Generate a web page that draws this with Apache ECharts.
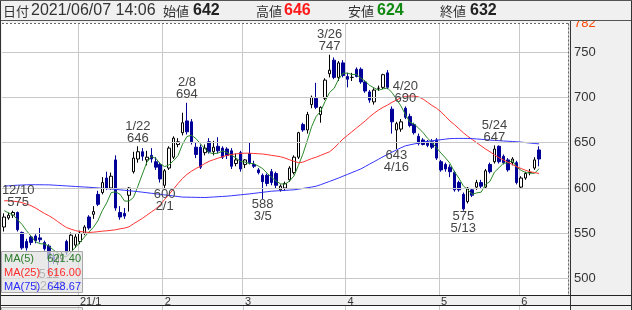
<!DOCTYPE html>
<html><head><meta charset="utf-8">
<script src="https://cdn.jsdelivr.net/npm/echarts@6/dist/echarts.min.js"></script>
<style>html,body{margin:0;padding:0;background:#fff}#c{width:632px;height:310px}</style>
</head><body><div id="c"></div>
<script>
const dates = ['12/8','12/9','12/10','12/11','12/14','12/15','12/16','12/17','12/18','12/21','12/22','12/23','12/24','12/25','12/28','12/29','12/30',
'1/4','1/5','1/6','1/7','1/8','1/12','1/13','1/14','1/15','1/18','1/19','1/20','1/21','1/22','1/25','1/26','1/27','1/28','1/29',
'2/1','2/2','2/3','2/4','2/5','2/8','2/9','2/10','2/12','2/15','2/16','2/17','2/18','2/19','2/22','2/24','2/25','2/26',
'3/1','3/2','3/3','3/4','3/5','3/8','3/9','3/10','3/11','3/12','3/15','3/16','3/17','3/18','3/19','3/22','3/23','3/24','3/25','3/26','3/29','3/30','3/31',
'4/1','4/2','4/5','4/6','4/7','4/8','4/9','4/12','4/13','4/14','4/15','4/16','4/19','4/20','4/21','4/22','4/23','4/26','4/27','4/28','4/30',
'5/6','5/7','5/10','5/11','5/12','5/13','5/14','5/17','5/18','5/19','5/20','5/21','5/24','5/25','5/26','5/27','5/28','5/31',
'6/1','6/2','6/3','6/4','6/7'];
const opens = [557,567,570,573,551,541,546,547,545,540,536,524,518,522,541,530,537,
541,550,568,571,593,595,611,600,631,573,572,592,618,632,640,631,636,629,626,
603,622,634,648,661,674,673,645,645,639,651,640,646,644,643,641,627,639,
626,638,626,620,614,614,618,616,598,600,609,617,634,670,664,692,699,681,699,726,741,722,738,
723,722,731,731,717,706,695,710,711,727,687,664,665,688,679,670,657,653,651,651,653,
629,626,623,617,606,593,585,598,601,606,601,626,629,646,635,631,628,628,
601,611,617,622,642];
const highs = [572,573,575,574,552,544,548,549,556,542,538,528,527,530,543,551,549,
553,559,570,580,597,612,618,617,636,580,578,601,640,646,644,641,644,634,628,
621,646,657,655,683,694,676,650,648,648,655,652,656,646,645,644,638,641,
632,650,630,622,616,616,621,618,604,607,624,636,662,672,684,702,716,690,721,747,744,740,741,
727,727,733,733,719,708,710,713,726,730,690,673,676,690,682,672,660,655,653,654,655,
631,628,626,619,608,595,601,600,609,609,621,628,647,647,637,633,634,630,
613,618,621,634,646];
const lows = [552,565,567,552,532,531,537,539,540,531,511,516,515,519,526,528,534,
538,548,554,566,580,593,598,598,575,565,566,574,616,628,630,625,628,620,606,
600,620,632,645,658,659,648,633,621,636,638,636,638,632,632,621,624,618,
622,626,622,615,588,602,603,600,596,597,607,615,632,662,660,688,687,672,697,722,720,718,722,
711,718,722,715,705,694,692,707,709,709,660,643,662,676,667,659,647,647,645,643,631,
618,618,612,596,596,575,583,590,598,599,599,616,627,627,626,618,625,604,
599,609,614,620,624];
const closes = [568,570,573,554,534,534,540,542,543,533,522,519,524,527,529,548,546,
550,557,556,574,582,606,600,613,578,568,569,600,633,640,635,634,632,623,610,
619,644,655,651,672,662,651,637,623,644,640,645,641,634,636,624,631,621,
631,628,624,617,607,605,606,603,602,605,622,634,661,664,681,700,689,689,719,730,722,738,724,
720,722,723,717,707,697,708,710,725,711,673,671,673,678,669,661,649,648,647,645,633,
620,621,618,598,598,577,600,592,606,602,619,618,643,629,628,620,632,606,
611,616,617,631,632];
const ma5 = [575,572.5,570,565,559.8,553,547,540.8,538.6,538.4,
536,531.8,528.2,525,524.2,529.4,534.8,540,546,551.4,
556.6,563.8,575,583.6,595,595.8,593,585.6,585.6,589.6,
602,615.4,628.4,634.8,632.8,626.8,623.6,625.6,630.2,635.8,
648.2,656.8,658.2,654.6,649,643.4,639,637.8,638.6,640.8,
639.2,636,633.2,629.2,628.6,627,627,624.2,621.4,616.2,
611.8,607.6,604.6,604.2,607.6,613.2,624.8,637.2,652.4,668,
679,684.6,695.6,705.4,709.8,719.6,726.6,726.8,725.2,725.4,
721.2,717.8,713.2,710.4,707.8,709.4,710.2,705.4,698,690.6,
681.2,672.8,670.4,666,661,654.8,650,644.4,638.6,633.2,
627.4,618,611,602.4,598.2,593,594.6,595.4,603.8,607.4,
617.6,622.2,627.4,627.6,630.4,623,619.4,617,616.4,616.2,
621.4];
const ma25 = [586,585.8,585.4,585,583.8,582.3,580.6,578,575,572,
569.5,566.5,563,559.5,556.3,554.6,553,552,551.5,551,
551.3,551.8,552.4,552.8,553.3,554,555,555.8,557.2,560.5,
563.5,566.5,570,573.5,577,581.5,587.5,593,599,605,
610.5,615,618.5,621.5,624,627,629.5,631.3,633,634.5,
636,637,637.7,638.1,638.4,638.4,638.1,637.8,637.5,636.8,
636,635.3,634.5,633,631.2,629.5,628,628.5,630.5,632.5,
634,636,638,640,644,649,654,658,662,666,
670,674,678.5,682.5,686,689,691.5,694.5,697,699.5,
701,701.5,701.3,700.5,698,694.5,691,688,684,679,
674,670,665.5,661,657,653.5,650,646.5,643,640,
636.5,633.5,631,628.5,626,623.5,621.5,619.5,618,617,
616];
const ma75 = [602,602.4,602.8,603.1,603.3,603.5,603.6,603.6,603.6,603.5,
603.5,603.2,602.9,602.6,602.3,602,601.7,601.4,601.1,600.8,
600.5,600.1,599.7,599.3,598.9,598.5,598,597.5,597,596.5,
596,595.4,594.8,594.2,593.6,593,592.4,591.8,591.2,590.6,
590,589.9,589.8,589.7,589.6,589.5,589.8,590.1,590.4,590.7,
591,591.5,592,592.5,593,593.5,594.1,594.7,595.3,595.9,
596.5,596.8,597.1,597.4,597.7,598,598.7,599.5,600.3,601.1,
602,603.7,605.5,607.3,609.1,611,613,615,617,619,
621,623.7,626.4,629.1,631.8,634.5,637,639.5,642,644.3,
646.5,647.6,648.6,649.6,650.6,651.5,652.1,652.7,653.3,653.9,
654.5,654.6,654.7,654.7,654.6,654.5,654.1,653.7,653.3,652.9,
652.5,652.2,651.9,651.6,651.3,651,650.6,650.1,649.6,649.1,
648.67];
const yTicks = [500,550,600,650,700,750];
const yMin = 482, yMax = 782;
const monthStarts = ['1/4','2/1','3/1','4/1','5/6','6/1'];
const monthLabels = ['21/1','2','3','4','5','6'];
const annDates = ['12/10','12/22','1/22','2/1','2/8','3/5','3/26','4/16','4/20','5/13','5/24'];
const annValues = [575,511,646,600,694,588,747,643,690,575,647];
const annSides = ['high','low','high','low','high','low','high','low','high','low','high'];
const headerTime = '2021/06/07 14:06';
const padCount = 6;

const cats = dates.concat(Array.from({length: padCount}, (_, k) => '_' + k));
const candle = dates.map((d, i) => [opens[i], closes[i], lows[i], highs[i]]);
const last = dates.length - 1;
const NUM = 'Liberation Sans';
const CJK = '"Noto Sans CJK JP"';

const chart = echarts.init(document.getElementById('c'), null, {renderer: 'canvas'});

function markPts() {
  return annDates.map((d, i) => {
    const v = annValues[i], hi = annSides[i] === 'high';
    return {
      coord: [d, v],
      label: {
        position: hi ? 'top' : 'bottom',
        distance: hi ? 2 : 0,
        offset: i === 0 ? [5, 0] : [0, 0],
        formatter: hi ? (d + '\n' + v) : (v + '\n' + d)
      }
    };
  });
}

const option = {
  animation: false,
  backgroundColor: '#f0f0f0',
  grid: {left: 2, right: 64, top: 23, bottom: 15, show: true, backgroundColor: '#fff', borderWidth: 0, containLabel: false},
  xAxis: {
    type: 'category', data: cats, boundaryGap: true,
    axisLine: {show: false}, axisTick: {show: false},
    axisLabel: {
      interval: (i, v) => monthStarts.includes(v),
      formatter: v => { const k = monthStarts.indexOf(v); return k >= 0 ? monthLabels[k] : ''; },
      align: 'left', margin: 1, fontSize: 11, lineHeight: 11, color: '#333', fontFamily: NUM
    },
    splitLine: {show: true, interval: (i, v) => monthStarts.includes(v), lineStyle: {color: '#c8c8c8', width: 1}}
  },
  yAxis: {
    type: 'value', position: 'right', min: yMin, max: yMax, scale: true,
    splitLine: {show: false}, axisLine: {show: false}, axisTick: {show: false},
    axisLabel: {
      customValues: yTicks.concat([yMax]),
      margin: 6, fontSize: 13, fontFamily: NUM,
      color: v => (Number(v) === yMax ? '#ff4500' : '#333')
    }
  },
  series: [
    {
      type: 'line', data: [], z: 0, silent: true,
      markLine: {
        silent: true, symbol: 'none', animation: false,
        label: {show: false},
        lineStyle: {color: '#c8c8c8', type: 'solid', width: 1},
        emphasis: {disabled: true},
        data: yTicks.map(v => ({yAxis: v}))
      }
    },
    {
      type: 'candlestick', data: candle, barWidth: 3, z: 3, silent: true,
      itemStyle: {color: '#ffffff', color0: '#000099', borderColor: '#000000', borderColor0: '#000099', borderWidth: 1},
      markPoint: {
        symbol: 'circle', symbolSize: 0, silent: true, animation: false,
        itemStyle: {color: 'rgba(0,0,0,0)'},
        label: {show: true, color: '#444', fontSize: 13, lineHeight: 12, fontFamily: NUM},
        data: markPts()
      }
    },
    {type: 'line', data: ma5, showSymbol: false, symbol: 'none', z: 4, silent: true, lineStyle: {color: '#2a8a2a', width: 1}},
    {type: 'line', data: ma25, showSymbol: false, symbol: 'none', z: 4, silent: true, lineStyle: {color: '#ff3333', width: 1}},
    {type: 'line', data: ma75, showSymbol: false, symbol: 'none', z: 4, silent: true, lineStyle: {color: '#3333ff', width: 1}}
  ]
};
chart.setOption(option);

// decorations
const G = [];
const T = (x, y, text, font, color, align, weight) => ({
  type: 'text', z: 102, silent: true, x: x, y: y,
  style: {text: text, fontSize: font.size, fontFamily: font.family, fill: color, align: align || 'left', verticalAlign: 'middle', fontWeight: weight || 'normal'}
});
// header
G.push({type: 'rect', z: 100, silent: true, shape: {x: 0, y: 0, width: 632, height: 21}, style: {fill: '#f0f0f0'}});
G.push({type: 'line', z: 101, silent: true, shape: {x1: 0, y1: 20.5, x2: 632, y2: 20.5}, style: {stroke: '#555', lineWidth: 1}});
const jf = {size: 13, family: CJK}, nf = {size: 16, family: NUM};
G.push(T(3, 11, '日付', jf, '#333'));
G.push(T(31, 11, headerTime, nf, '#333'));
G.push(T(163, 11, '始値', jf, '#333'));
G.push(T(193, 11, String(opens[last]), nf, '#222', 'left', 'bold'));
G.push(T(256, 11, '高値', jf, '#333'));
G.push(T(284, 11, String(highs[last]), nf, '#ff1a1a', 'left', 'bold'));
G.push(T(348, 11, '安値', jf, '#333'));
G.push(T(377, 11, String(lows[last]), nf, '#118811', 'left', 'bold'));
G.push(T(440, 11, '終値', jf, '#333'));
G.push(T(470, 11, String(closes[last]), nf, '#222', 'left', 'bold'));
// plot dotted frame
G.push({type: 'line', z: 50, silent: true, shape: {x1: 2, y1: 23.5, x2: 568.5, y2: 23.5}, style: {stroke: '#666', lineWidth: 1, lineDash: [2, 2]}});
G.push({type: 'line', z: 50, silent: true, shape: {x1: 568.5, y1: 23.5, x2: 568.5, y2: 295}, style: {stroke: '#666', lineWidth: 1, lineDash: [2, 2]}});
// right panel divider
G.push({type: 'line', z: 50, silent: true, shape: {x1: 570.5, y1: 21, x2: 570.5, y2: 310}, style: {stroke: '#333', lineWidth: 1}});
// bottom strip
G.push({type: 'line', z: 50, silent: true, shape: {x1: 0, y1: 295.5, x2: 632, y2: 295.5}, style: {stroke: '#222', lineWidth: 1}});
G.push({type: 'line', z: 50, silent: true, shape: {x1: 0, y1: 305.5, x2: 632, y2: 305.5}, style: {stroke: '#222', lineWidth: 1}});
G.push({type: 'rect', z: 40, silent: true, shape: {x: 1, y: 306, width: 569, height: 4}, style: {fill: '#fff'}});
// lower panel gridlines at month boundaries
const c0 = chart.convertToPixel({xAxisIndex: 0}, 0), c1 = chart.convertToPixel({xAxisIndex: 0}, 1);
const bw = c1 - c0;
monthStarts.forEach(m => {
  const x = Math.round(chart.convertToPixel({xAxisIndex: 0}, m) - bw / 2) + 0.5;
  G.push({type: 'line', z: 41, silent: true, shape: {x1: x, y1: 306, x2: x, y2: 310}, style: {stroke: '#c8c8c8', lineWidth: 1}});
});
G.push({type: 'rect', z: 42, silent: true, shape: {x: 1.5, y: 307.5, width: 81, height: 10}, style: {fill: 'rgba(225,225,225,0.7)', stroke: '#aaa', lineWidth: 1}});
// outer frame
G.push({type: 'line', z: 103, silent: true, shape: {x1: 0.5, y1: 0, x2: 0.5, y2: 310}, style: {stroke: '#333', lineWidth: 1}});
G.push({type: 'line', z: 103, silent: true, shape: {x1: 631.5, y1: 0, x2: 631.5, y2: 310}, style: {stroke: '#333', lineWidth: 1}});
G.push({type: 'line', z: 103, silent: true, shape: {x1: 0, y1: 0.5, x2: 632, y2: 0.5}, style: {stroke: '#555', lineWidth: 1}});
// MA legend box
G.push({type: 'rect', z: 100, silent: true, shape: {x: 1.5, y: 251.5, width: 81, height: 41}, style: {fill: 'rgba(225,225,225,0.72)', stroke: '#a8a8a8', lineWidth: 1}});
const lf = {size: 11, family: NUM};
const legendRows = [['MA(5)', ma5, '#2a7a2a'], ['MA(25)', ma25, '#ff2a2a'], ['MA(75)', ma75, '#2a2aff']];
legendRows.forEach((r, k) => {
  const y = 258.5 + k * 14;
  G.push(T(4, y, r[0], lf, r[2]));
  G.push(T(81, y, r[1][r[1].length - 1].toFixed(2), lf, r[2], 'right'));
});
chart.setOption({graphic: {elements: G}});
</script></body></html>
